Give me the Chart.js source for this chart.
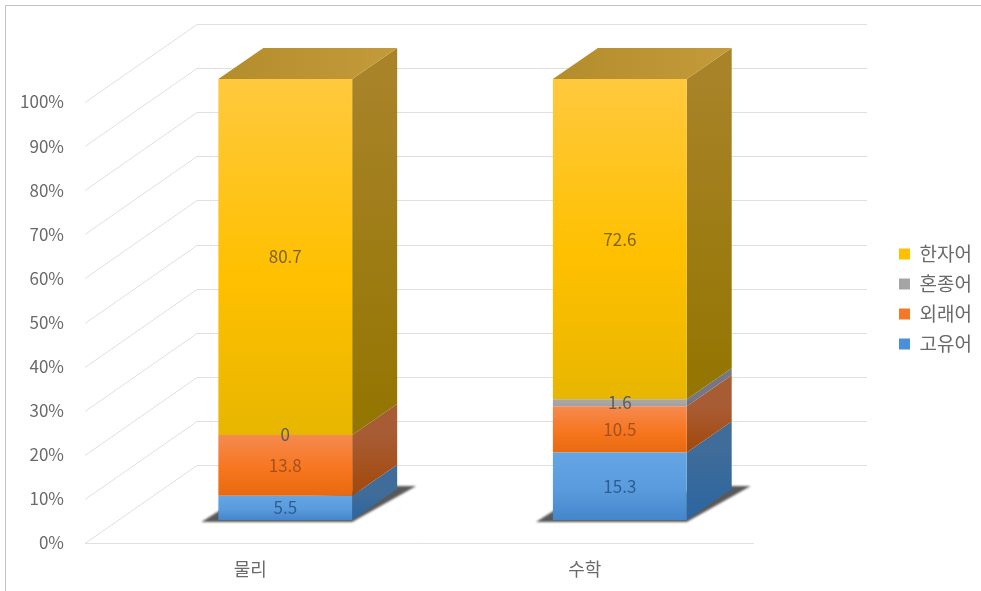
<!DOCTYPE html>
<html lang="ko">
<head>
<meta charset="utf-8">
<title>어종 비율</title>
<script src="https://cdn.jsdelivr.net/npm/chart.js@4/dist/chart.umd.min.js"></script>
<style>
    html, body { margin: 0; padding: 0; background: #fff; overflow: hidden; }
    #frame { position: absolute; left: 5px; top: 5px; right: 0; bottom: 0; border-left: 1px solid #c2c2c2; border-top: 1px solid #c2c2c2; }
    #wordChart { position: absolute; left: 0; top: 0; }
</style>
</head>
<body>
<div id="frame"></div>
<canvas id="wordChart" width="981" height="591"></canvas>
<script>
const subjects = ['물리', '수학'];
const seriesNames = ['고유어', '외래어', '혼종어', '한자어'];
const nativeWords = [5.5, 15.3];
const foreignWords = [13.8, 10.5];
const mixedWords = [0, 1.6];
const sinoWords = [80.7, 72.6];
const percentTicks = [0, 10, 20, 30, 40, 50, 60, 70, 80, 90, 100];

const seriesValues = [nativeWords, foreignWords, mixedWords, sinoWords];

// colours per series, bottom of the stack first
const solidColors = ['#4a90d9', '#f5782a', '#a5a5a5', '#ffc000'];
const frontStops = [
    ['#64a5e6', '#5a9bdd', '#4486cb'],
    ['#f58a50', '#f7761f', '#e8690f'],
    ['#a8a8a8', '#a5a5a5', '#a0a0a0'],
    ['#ffc93e', '#ffc000', '#e8b600']
];
const sideStops = [
    ['#3f6c98', '#2a65a2'],
    ['#a85c34', '#a2480a'],
    ['#767684', '#66667a'],
    ['#a88328', '#937500']
];
const labelColors = ['#2c5d93', '#a4511f', '#5e5c58', '#7d6414'];
const gridColor = '#e0e0e0';
const tickColor = '#6a6a6a';
const fontName = '"Noto Sans CJK KR", "Noto Sans", sans-serif';

// box placement on the floor of the 3D plot
const barShiftX = 33;
const barShiftY = -23;
const depthX = 45;
const depthY = -31;
// back wall offset of the gridlines
const wallX = 112;
const wallY = -78;
const wallRight = 867;

function polygon(ctx, pts, fill) {
    ctx.beginPath();
    ctx.moveTo(pts[0][0], pts[0][1]);
    for (let i = 1; i < pts.length; i++) {
        ctx.lineTo(pts[i][0], pts[i][1]);
    }
    ctx.closePath();
    ctx.fillStyle = fill;
    ctx.fill();
}

function frontFill(c, s) {
    if (c.type !== 'data') {
        return solidColors[s];
    }
    let low = 0;
    for (let i = 0; i < s; i++) {
        low += seriesValues[i][c.dataIndex];
    }
    let y = c.chart.scales.y;
    let top = y.getPixelForValue(low + seriesValues[s][c.dataIndex]);
    let bottom = y.getPixelForValue(low);
    // scale has no pixels yet while the legend is being measured
    if (!Number.isFinite(top) || !Number.isFinite(bottom)) {
        return solidColors[s];
    }
    let grad = c.chart.ctx.createLinearGradient(0, top, 0, bottom);
    grad.addColorStop(0, frontStops[s][0]);
    grad.addColorStop(0.55, frontStops[s][1]);
    grad.addColorStop(1, frontStops[s][2]);
    return grad;
}

// walls and floor lines behind the boxes
function drawGrid(chart) {
    let ctx = chart.ctx;
    let y = chart.scales.y;
    let area = chart.chartArea;
    ctx.save();
    ctx.strokeStyle = gridColor;
    ctx.lineWidth = 1;
    for (let v of percentTicks) {
        let py = Math.round(y.getPixelForValue(v)) + 0.5;
        ctx.beginPath();
        ctx.moveTo(area.left, py);
        ctx.lineTo(area.left + wallX, py + wallY);
        ctx.lineTo(wallRight, py + wallY);
        ctx.stroke();
    }
    let floorY = Math.round(y.getPixelForValue(0)) + 0.5;
    ctx.beginPath();
    ctx.moveTo(area.left, floorY);
    ctx.lineTo(area.right, floorY);
    ctx.stroke();
    ctx.restore();
}

function drawShadows(chart) {
    let ctx = chart.ctx;
    let first = chart.getDatasetMeta(0).data;
    ctx.save();
    ctx.filter = 'blur(1.2px)';
    for (let el of first) {
        let left = el.x - el.width / 2 + barShiftX;
        let right = left + el.width;
        let floor = el.base + barShiftY;
        polygon(ctx, [
            [left - 17, floor + 2],
            [left + 2, floor - 10],
            [right + depthX, floor - 34],
            [right + depthX + 19, floor - 34],
            [right, floor + 2]
        ], '#595959');
    }
    ctx.restore();
}

function drawSides(chart) {
    let ctx = chart.ctx;
    chart.data.datasets.forEach(function (ds, s) {
        chart.getDatasetMeta(s).data.forEach(function (el) {
            if (el.base - el.y < 0.5) {
                return;
            }
            let right = el.x + el.width / 2 + barShiftX;
            let top = el.y + barShiftY;
            let bottom = el.base + barShiftY;
            let grad = ctx.createLinearGradient(0, top, 0, bottom);
            grad.addColorStop(0, sideStops[s][0]);
            grad.addColorStop(1, sideStops[s][1]);
            polygon(ctx, [
                [right, top],
                [right + depthX, top + depthY],
                [right + depthX, bottom + depthY],
                [right, bottom]
            ], grad);
        });
    });
    // lid of each box, on top of the last series
    let last = chart.data.datasets.length - 1;
    chart.getDatasetMeta(last).data.forEach(function (el) {
        let left = el.x - el.width / 2 + barShiftX;
        let right = left + el.width;
        let top = el.y + barShiftY;
        let grad = ctx.createLinearGradient(left, 0, right + depthX, 0);
        grad.addColorStop(0, '#b38c2c');
        grad.addColorStop(1, '#c49b3a');
        polygon(ctx, [
            [left, top],
            [left + depthX, top + depthY],
            [right + depthX, top + depthY],
            [right, top]
        ], grad);
    });
}

function drawValues(chart) {
    let ctx = chart.ctx;
    ctx.save();
    ctx.font = '17px ' + fontName;
    ctx.textAlign = 'center';
    ctx.textBaseline = 'middle';
    chart.data.datasets.forEach(function (ds, s) {
        chart.getDatasetMeta(s).data.forEach(function (el, i) {
            ctx.fillStyle = labelColors[s];
            ctx.fillText(String(ds.data[i]), el.x + barShiftX, (el.y + el.base) / 2 + barShiftY);
        });
    });
    ctx.restore();
}

const boxes3d = {
    id: 'boxes3d',
    afterLayout(chart) {
        // legend floats right of the plot, clear of the back wall
        let lg = chart.legend;
        lg.left = 888;
        lg.right = 981;
        lg.top = 199;
        lg.bottom = 399;
    },
    beforeDatasetsDraw(chart) {
        drawGrid(chart);
        drawShadows(chart);
        drawSides(chart);
        chart.ctx.save();
        chart.ctx.translate(barShiftX, barShiftY);
    },
    afterDatasetsDraw(chart) {
        chart.ctx.restore();
        drawValues(chart);
    }
};

let datasets = [];
seriesNames.forEach(function (name, s) {
    datasets.push({
        label: name,
        data: seriesValues[s],
        backgroundColor: function (c) {
            return frontFill(c, s);
        },
        borderWidth: 0,
        inflateAmount: 0,
        clip: false,
        barPercentage: 0.4,
        categoryPercentage: 1
    });
});

let ctx = document.getElementById('wordChart');
let wordChart = new Chart(ctx, {
    type: 'bar',
    data: {
        labels: subjects,
        datasets: datasets
    },
    plugins: [boxes3d],
    options: {
        responsive: false,
        animation: false,
        layout: {
            padding: { top: 102, right: 133, bottom: 0, left: 0 }
        },
        scales: {
            x: {
                stacked: true,
                grid: { display: false, drawTicks: false },
                border: { display: false },
                afterFit(scale) {
                    scale.height = 48;
                },
                ticks: {
                    color: tickColor,
                    padding: 15,
                    labelOffset: -2,
                    maxRotation: 0,
                    font: { family: fontName, size: 18 }
                }
            },
            y: {
                stacked: true,
                min: 0,
                max: 100,
                grid: { display: false, drawTicks: false },
                border: { display: false },
                afterFit(scale) {
                    scale.width = 85;
                },
                afterBuildTicks(scale) {
                    scale.ticks = percentTicks.map(function (v) {
                        return { value: v };
                    });
                },
                ticks: {
                    color: tickColor,
                    padding: 21,
                    font: { family: fontName, size: 17 },
                    callback: function (value) {
                        return value + '%';
                    }
                }
            }
        },
        plugins: {
            title: { display: false },
            tooltip: { enabled: false },
            legend: {
                position: 'right',
                reverse: true,
                labels: {
                    boxWidth: 11,
                    boxHeight: 11,
                    padding: 11,
                    color: tickColor,
                    font: { family: fontName, size: 19 },
                    // plain swatches, not the gradients of the boxes
                    generateLabels: function () {
                        return seriesNames.map(function (name, s) {
                            return {
                                text: name,
                                fillStyle: solidColors[s],
                                strokeStyle: solidColors[s],
                                lineWidth: 0,
                                fontColor: tickColor,
                                hidden: false,
                                datasetIndex: s
                            };
                        });
                    }
                }
            }
        }
    }
});
</script>
</body>
</html>
